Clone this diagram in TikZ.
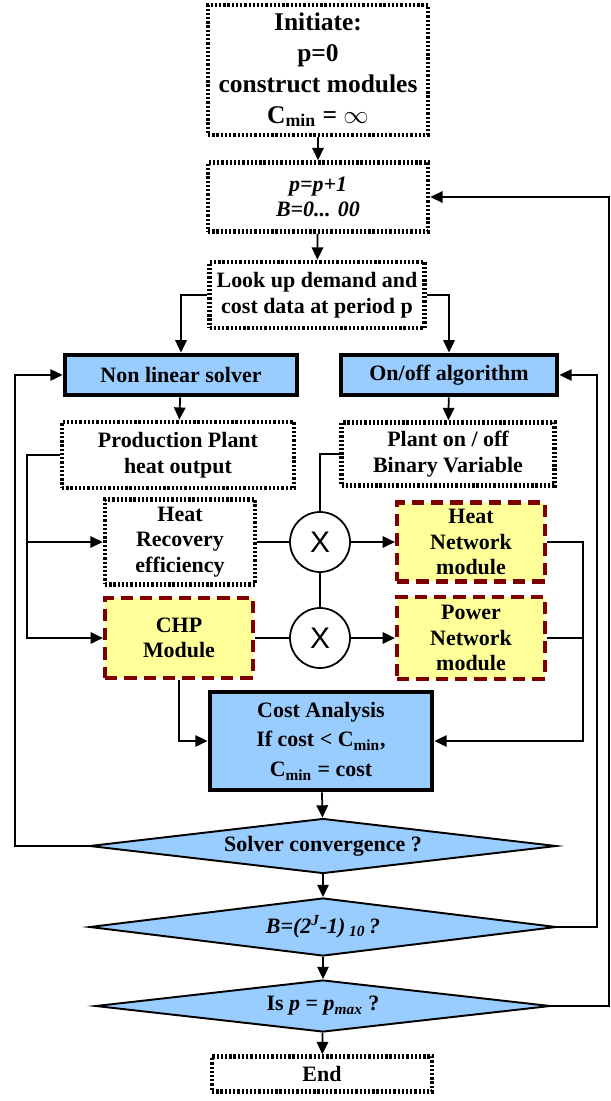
\documentclass[tikz,border=0pt]{standalone}
\usepackage{fontspec}
\setmainfont{Liberation Serif}
\newfontfamily\crossfont{Liberation Sans}
\usetikzlibrary{arrows.meta,shapes.geometric}
\definecolor{fcblue}{RGB}{153,204,255}
\definecolor{fcyellow}{RGB}{255,255,153}
\definecolor{fcred}{RGB}{128,0,0}

\begin{document}
\begin{tikzpicture}[x=0.02cm, y=-0.02cm, >={Triangle[length=7pt,width=6.5pt]},
  every node/.style={font=\fontsize{12.5}{14.5}\selectfont\bfseries, align=center, inner sep=1pt},
  databox/.style={draw, line width=2.6pt, dash pattern=on 1.3pt off 1.1pt, fill=white},
  solverbox/.style={draw, line width=2.8pt, fill=fcblue},
  modbox/.style={draw=fcred, line width=2.4pt, dash pattern=on 7pt off 4pt, fill=fcyellow},
  test/.style={draw, diamond, line width=1.1pt, fill=fcblue, inner sep=0pt, aspect=8.5, minimum width=9.34cm},
  mult/.style={draw, circle, line width=1pt, minimum size=1.2cm, font=\crossfont\fontsize{17}{17}\selectfont},
  link/.style={line width=1pt}]
  \useasboundingbox (0,0) rectangle (611,1101);
  % main column
  \node[databox, minimum width=4.4cm, minimum height=2.6cm, font=\fontsize{14.5}{17.5}\selectfont\bfseries] (init) at (318,70)
    {Initiate:\\p=0\\construct modules\\C\textsubscript{min} = $\infty$};
  \node[databox, minimum width=4.4cm, minimum height=1.38cm] (incr) at (318,197) {\itshape p=p+1\\\itshape B=0... 00};
  \node[databox, minimum width=4.3cm, minimum height=1.32cm] (lookup) at (317,295) {Look up demand and\\cost data at period p};
  % solvers
  \node[solverbox, minimum width=4.64cm, minimum height=0.8cm] (nls) at (181,375) {Non linear solver};
  \node[solverbox, minimum width=4.32cm, minimum height=0.8cm] (onoff) at (449,375) {On/off algorithm};
  \node[databox, minimum width=4.64cm, minimum height=1.32cm] (prod) at (178,455) {Production Plant\\heat output};
  \node[databox, minimum width=4.26cm, minimum height=1.26cm] (binvar) at (448,454) {Plant on / off\\Binary Variable};
  % modules
  \node[databox, minimum width=3cm, minimum height=1.7cm] (hrec) at (180,542) {Heat\\Recovery\\efficiency};
  \node[modbox, minimum width=2.96cm, minimum height=1.6cm] (chp) at (179,638) {CHP\\Module};
  \node[mult] (mx1) at (320,542) {X};
  \node[mult] (mx2) at (320,638) {X};
  \node[modbox, minimum width=2.96cm, minimum height=1.58cm] (heatnet) at (471,542) {Heat\\Network\\module};
  \node[modbox, minimum width=2.96cm, minimum height=1.64cm] (pownet) at (471,638) {Power\\Network\\module};
  \node[solverbox, minimum width=4.44cm, minimum height=1.96cm, font=\fontsize{12.5}{17}\selectfont\bfseries] (cost) at (321,741)
    {Cost Analysis\\If cost < C\textsubscript{min},\\C\textsubscript{min} = cost};
  % tests
  \node[test, minimum height=1.1cm] (conv) at (323,846) {Solver convergence ?};
  \node[test, minimum height=1.16cm] (bchk) at (323,927) {\itshape B=(2\textsuperscript{J}-1)\,\textsubscript{10}\,?};
  \node[test, minimum height=1.04cm, minimum width=9.1cm] (pchk) at (323,1006) {Is \textit{p} = \textit{p\textsubscript{max}} ?};
  \node[databox, minimum width=4.4cm, minimum height=0.7cm] (endn) at (322,1074) {End};
  % bus lines
  \coordinate (lx) at (27,0);
  \coordinate (rx) at (583,0);
  \coordinate (fbl) at (15,0);
  \coordinate (fbr) at (597,0);
  \coordinate (fbo) at (609,0);
  % connectors
  \draw[link,->] (init) -- (incr);
  \draw[link,->] (incr) -- (lookup);
  \draw[link,->] (lookup.west) -| (nls.north);
  \draw[link,->] (lookup.east) -| (onoff.north);
  \draw[link,->] (nls) -- (prod);
  \draw[link,->] (onoff) -- (binvar);
  \draw[link,->] (prod.west) -| (lx |- chp.west) -- (chp.west);
  \draw[link,->] (lx |- hrec.west) -- (hrec.west);
  \draw[link] (binvar.west) -| (mx1.north);
  \draw[link] (mx1) -- (mx2);
  \draw[link] (hrec.east) -- (mx1.west);
  \draw[link] (chp.east) -- (mx2.west);
  \draw[link,->] (mx1) -- (heatnet);
  \draw[link,->] (mx2) -- (pownet);
  \draw[link,->] (heatnet.east) -| (rx |- cost.east) -- (cost.east);
  \draw[link] (pownet.east) -- (rx |- pownet.east);
  \draw[link,->] (chp.south) |- (cost.west);
  \draw[link,->] (cost) -- (conv);
  \draw[link,->] (conv) -- (bchk);
  \draw[link,->] (bchk) -- (pchk);
  \draw[link,->] (pchk) -- (endn);
  % feedback loops
  \draw[link,->] (conv.west) -| (fbl |- nls.west) -- (nls.west);
  \draw[link,->] (bchk.east) -| (fbr |- onoff.east) -- (onoff.east);
  \draw[link,->] (pchk.east) -| (fbo |- incr.east) -- (incr.east);
\end{tikzpicture}
\end{document}
